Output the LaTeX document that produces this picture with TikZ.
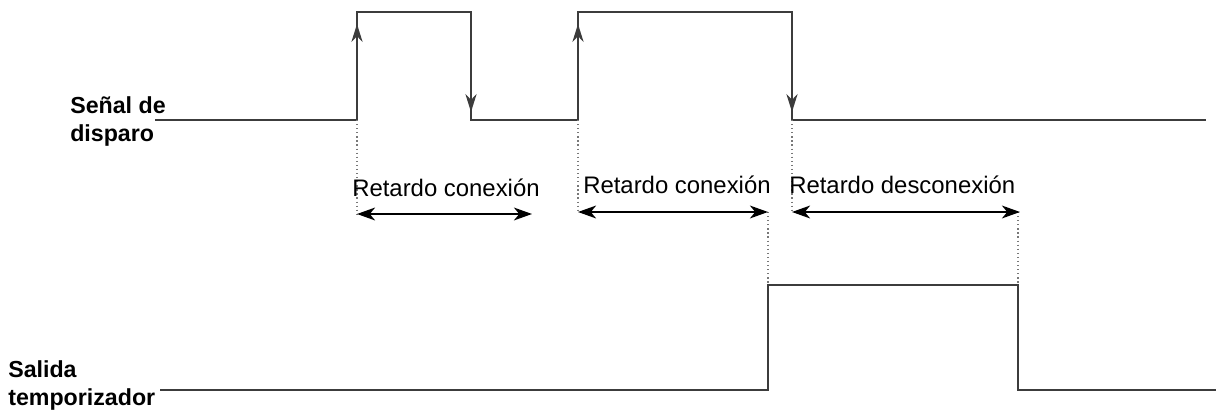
\documentclass[tikz,border=0pt]{standalone}
\usepackage{fontspec}
\setmainfont{Liberation Sans}
\usetikzlibrary{arrows.meta}
\definecolor{wavegray}{RGB}{60, 60, 60}
\definecolor{guidegray}{RGB}{120, 120, 120}

\tikzset{
  wave/.style={line width=1.6pt, wavegray},
  edgearrow/.style={line width=1.6pt, wavegray, -{Stealth[length=4.5mm, width=2.8mm]}},
  guide/.style={guidegray, dotted, line width=0.9pt},
  span/.style={line width=1.5pt, black, {Stealth[length=4.5mm, width=3.2mm, inset=1.3mm]}-{Stealth[length=4.5mm, width=3.2mm, inset=1.3mm]}},
  sigtext/.style={font=\bfseries\fontsize{16.5}{20}\selectfont, align=left, inner sep=0pt},
  spantext/.style={font=\fontsize{17}{20}\selectfont, inner sep=0pt}
}

\begin{document}
\begin{tikzpicture}[x=0.025cm, y=-0.025cm]
    \useasboundingbox (0,0) rectangle (1216,412);

    % Trigger signal
    \coordinate (s0) at (155,120);
    \coordinate (r1) at (357,120);
    \coordinate (f1) at (471,12);
    \coordinate (r2) at (578,120);
    \coordinate (f2) at (792,12);
    \coordinate (s1) at (1206,120);
    \draw[wave] (s0) -- (r1) |- (f1) |- (r2) |- (f2) |- (s1);
    \draw[edgearrow] (r1) -- ++(0,-96);
    \draw[edgearrow] (f1) -- ++(0,100);
    \draw[edgearrow] (r2) -- ++(0,-96);
    \draw[edgearrow] (f2) -- ++(0,100);

    % Timer output
    \coordinate (o0) at (160,390);
    \coordinate (o1) at (768,390);
    \coordinate (o2) at (1018,285);
    \coordinate (o3) at (1216,390);
    \draw[wave] (o0) -- (o1) |- (o2) |- (o3);

    % Delay spans
    \coordinate (a1) at (357,214);
    \coordinate (b1) at (532,214);
    \coordinate (a2) at (578,212);
    \coordinate (b2) at (768,212);
    \coordinate (a3) at (792,212);
    \coordinate (b3) at (1020,212);
    \draw[guide] (r1) -- (a1);
    \draw[guide] (r2) -- (a2);
    \draw[guide] (f2 |- r2) -- (a3);
    \draw[guide] (b2) -- (o1 |- o2);
    \draw[guide] (b3 -| o2) -- (o2);
    \draw[span] (a1) -- (b1);
    \draw[span] (a2) -- (b2);
    \draw[span] (a3) -- (b3);

    % Labels
    \node[spantext, anchor=base west] (t1) at (352,197) {Retardo conexión};
    \node[spantext, anchor=base west] (t2) at (583,194) {Retardo conexión};
    \node[spantext, anchor=base west] (t3) at (789,194) {Retardo desconexión};
    \node[sigtext, anchor=north west] (in) at (70,96) {Señal de\\disparo};
    \node[sigtext, anchor=north west] (out) at (8,360) {Salida\\temporizador};
\end{tikzpicture}
\end{document}
